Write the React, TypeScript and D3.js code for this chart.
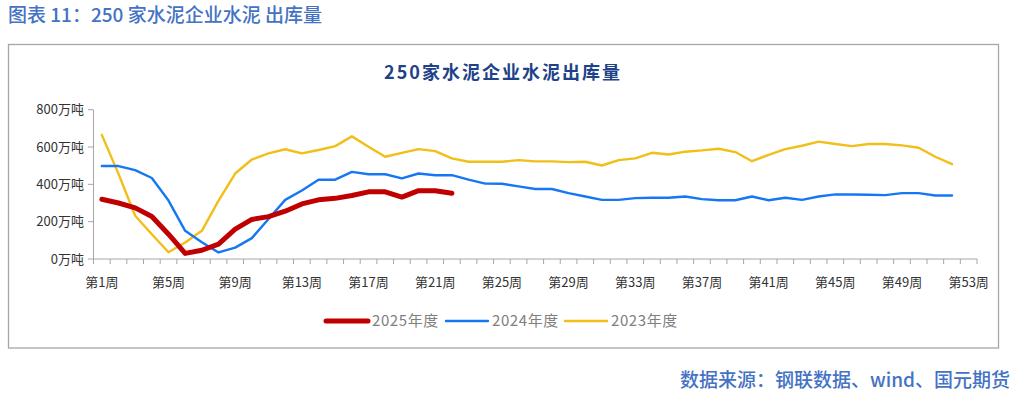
import * as d3 from 'd3';

// weeks 第1周 .. 第53周
const weeks = d3.range(1, 54).map(w => `第${w}周`);
const yTicks = [0, 200, 400, 600, 800];

const s2025 = [320, 300, 274, 228, 133, 30, 47, 80, 160, 212, 227, 256, 295, 317, 325, 340, 360, 360, 332, 366, 366, 352];
const s2024 = [
  498, 498, 476, 434, 313, 151, 90, 35, 61, 112, 214, 317, 367, 425, 425, 467, 454, 454, 432, 458,
  449, 449, 425, 404, 403, 389, 375, 375, 353, 335, 317, 317, 326, 328, 328, 335, 321, 315, 315, 335,
  315, 328, 317, 335, 346, 346, 344, 342, 353, 353, 340, 340,
];
const s2023 = [
  665, 456, 232, 133, 36, 88, 151, 313, 458, 533, 566, 588, 566, 584, 605, 657, 602, 548, 569, 589,
  578, 539, 521, 521, 521, 530, 523, 523, 519, 521, 501, 530, 539, 569, 560, 575, 582, 591, 573, 524,
  558, 589, 607, 629, 616, 605, 616, 616, 609, 596, 548, 508,
];

const series = [
  { name: '2023年度', values: s2023, color: '#F2BE18', width: 2.4 },
  { name: '2024年度', values: s2024, color: '#1677F5', width: 2.4 },
  { name: '2025年度', values: s2025, color: '#C00000', width: 5 },
];
const legendOrder = ['2025年度', '2024年度', '2023年度'];

const W = 1018;
const H = 396;
const axisColor = '#a6a6a6';
const font = '"Noto Sans CJK SC", "Noto Sans", sans-serif';

export default function App() {
  const x = d3.scaleBand<string>().domain(weeks).range([93.5, 977]);
  const y = d3.scaleLinear().domain([0, 800]).range([259, 109.7]);
  const cx = (i: number) => (x(weeks[i]) as number) + x.bandwidth() / 2;

  const line = d3.line<number>()
    .x((_, i) => cx(i))
    .y(d => y(d));

  const legendX: Record<string, number> = { '2025年度': 326, '2024年度': 446, '2023年度': 565 };

  return (
    <div style={{ position: 'absolute', left: 0, top: 0 }}>
      <svg width={W} height={H} style={{ display: 'block', fontFamily: font }}>
        <rect width={W} height={H} fill="#fff" />
        <text x={8} y={22} fontSize={19} fontWeight={500} fill="#4472C4">
          图表 11：250 家水泥企业水泥 出库量
        </text>
        <rect x={8.5} y={44.5} width={990} height={303.5} fill="none" stroke={axisColor} strokeWidth={1.3} />
        <text x={503} y={79} textAnchor="middle" fontSize={18} letterSpacing={2} fontWeight="bold" fill="#1F4288">
          250家水泥企业水泥出库量
        </text>

        {/* y axis */}
        <line x1={93.5} x2={93.5} y1={y(800)} y2={y(0)} stroke={axisColor} />
        {yTicks.map(t => (
          <g key={t}>
            <line x1={88} x2={93.5} y1={y(t)} y2={y(t)} stroke={axisColor} />
            <text x={84} y={y(t)} dy="0.35em" textAnchor="end" fontSize={13} fill="#333">
              {`${t}万吨`}
            </text>
          </g>
        ))}

        {/* x axis */}
        <line x1={93.5} x2={977} y1={y(0)} y2={y(0)} stroke={axisColor} />
        {weeks.map(w => (
          <line key={w} x1={x(w)} x2={x(w)} y1={y(0)} y2={y(0) + 5} stroke={axisColor} />
        ))}
        <line x1={977} x2={977} y1={y(0)} y2={y(0) + 5} stroke={axisColor} />
        {weeks.map((w, i) =>
          i % 4 === 0 ? (
            <text key={w} x={cx(i)} y={282} dy="0.35em" textAnchor="middle" fontSize={13} fill="#333">
              {w}
            </text>
          ) : null
        )}

        {series.map(s => (
          <path
            key={s.name}
            d={line(s.values) || ''}
            fill="none"
            stroke={s.color}
            strokeWidth={s.width}
            strokeLinejoin="round"
            strokeLinecap="round"
          />
        ))}

        {/* legend */}
        {legendOrder.map(name => {
          const s = series.find(d => d.name === name)!;
          const lx = legendX[name];
          return (
            <g key={name}>
              <line x1={lx} x2={lx + 42} y1={321} y2={321} stroke={s.color} strokeWidth={s.width} strokeLinecap="round" />
              <text x={lx + 46} y={321} dy="0.35em" fontSize={15} letterSpacing={0.6} fill="#808080">
                {name}
              </text>
            </g>
          );
        })}

        <text x={1010} y={387} textAnchor="end" fontSize={19} fontWeight={500} fill="#4472C4">
          数据来源：钢联数据、wind、国元期货
        </text>
      </svg>
    </div>
  );
}
